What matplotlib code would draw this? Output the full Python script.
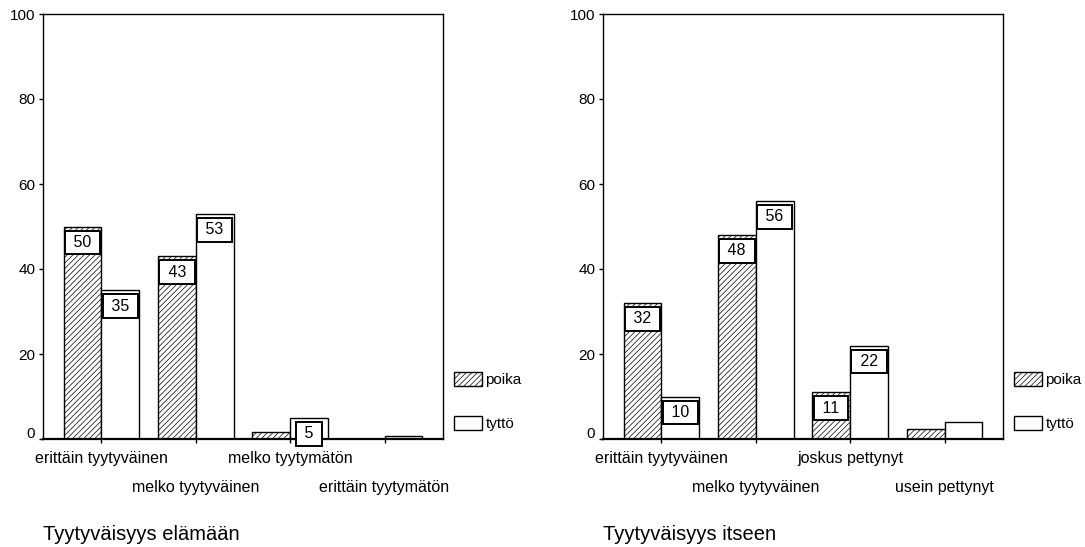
import numpy as np
import matplotlib.pyplot as plt
from matplotlib.transforms import ScaledTranslation

plt.rcParams['font.family'] = ['Liberation Sans', 'DejaVu Sans']
plt.rcParams['hatch.linewidth'] = 0.5

# Tyytyväisyys elämään
cats_1 = ["erittäin tyytyväinen", "melko tyytyväinen", "melko tyytymätön", "erittäin tyytymätön"]
poika_1 = [50, 43, 1.6, 0]
tytto_1 = [35, 53, 5, 0.7]

# Tyytyväisyys itseen
cats_2 = ["erittäin tyytyväinen", "melko tyytyväinen", "joskus pettynyt", "usein pettynyt"]
poika_2 = [32, 48, 11, 2.4]
tytto_2 = [10, 56, 22, 4.1]

titles = ["Tyytyväisyys elämään", "Tyytyväisyys itseen"]
series_names = ["poika", "tyttö"]
yticks = [0, 20, 40, 60, 80, 100]

W, H = 1085, 547
fig = plt.figure(figsize=(W / 100, H / 100), dpi=100)


def px(x, y):
    return x / W, 1 - y / H


def panel(left, cats, poika, tytto, title):
    ax = fig.add_axes([left / W, (H - 439) / H, 400 / W, 425 / H])
    x = np.arange(len(cats))
    w = 0.4
    b1 = ax.bar(x - w / 2, poika, w, color='white', edgecolor='black',
                hatch='//////', linewidth=1.0)
    b2 = ax.bar(x + w / 2, tytto, w, color='white', edgecolor='black',
                linewidth=1.0)
    ax.set_xlim(-0.62, 3.62)
    ax.set_ylim(0, 100)

    # arvolaatikot
    for xs, vals in ((x - w / 2, poika), (x + w / 2, tytto)):
        for xi, v in zip(xs, vals):
            if v >= 5:
                ax.annotate(f" {v:.0f} ", (xi, v), xytext=(0, -11.5),
                            textcoords='offset points', ha='center', va='center',
                            fontsize=11.5, zorder=5,
                            bbox=dict(boxstyle='square,pad=0.27', fc='white',
                                      ec='black', lw=1.4))

    ax.set_yticks(yticks)
    ax.set_yticklabels([str(t) for t in yticks], fontsize=11)
    ax.tick_params(axis='y', direction='out', length=3, width=1, pad=2.5)
    lab0 = ax.yaxis.get_major_ticks()[0].label1
    lab0.set_transform(lab0.get_transform() + ScaledTranslation(0, 0.07, fig.dpi_scale_trans))

    ax.set_xticks(x)
    ax.set_xticklabels(cats, fontsize=11.5)
    ax.tick_params(axis='x', direction='out', length=3, width=1)
    for i, t in enumerate(ax.xaxis.get_major_ticks()):
        t.set_pad(6 if i % 2 == 0 else 26.5)

    for s in ax.spines.values():
        s.set_linewidth(1.0)
    ax.spines['bottom'].set_linewidth(1.6)

    leg_x, leg_y = px(left + 411, 372)
    ax.legend([b1, b2], series_names, loc='upper left', bbox_to_anchor=(leg_x, leg_y),
              bbox_transform=fig.transFigure, frameon=False, fontsize=11,
              borderpad=0, borderaxespad=0, handlelength=1.85, handleheight=1.05,
              handletextpad=0.2, labelspacing=1.85)

    tx, ty = px(left, 535)
    fig.text(tx, ty, title, fontsize=14.5, ha='left', va='center')


panel(43, cats_1, poika_1, tytto_1, titles[0])
panel(603, cats_2, poika_2, tytto_2, titles[1])

fig.savefig("out.png", dpi=100)
